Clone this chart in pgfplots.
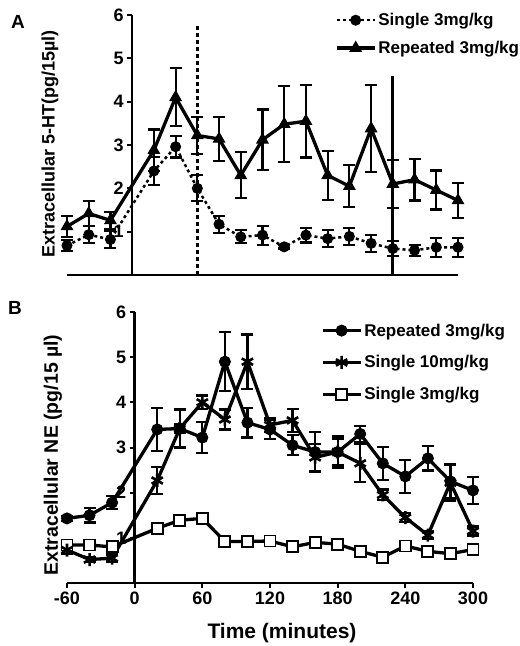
\documentclass[border=0pt]{standalone}
\usepackage{fontspec}
\setmainfont{Liberation Sans}
\usepackage{pgfplots}
\usepackage{pgfplotstable}
\pgfplotsset{compat=1.18}

% Panel A: single 3 mg/kg (circles, dotted)
\pgfplotstableread{
x y e
-60 0.68 0.12
-40 0.93 0.20
-20 0.82 0.20
20 2.40 0.33
40 2.96 0.25
60 2.00 0.30
80 1.17 0.20
100 0.88 0.15
120 0.92 0.22
140 0.65 0.04
160 0.92 0.17
180 0.84 0.20
200 0.89 0.20
220 0.73 0.19
240 0.61 0.17
260 0.57 0.13
280 0.64 0.22
300 0.64 0.22
}\AsingleTab

% Panel A: repeated 3 mg/kg (triangles)
\pgfplotstableread{
x y e
-60 1.12 0.25
-40 1.42 0.28
-20 1.26 0.20
20 2.88 0.48
40 4.10 0.67
60 3.22 0.42
80 3.14 0.50
100 2.30 0.53
120 3.12 0.70
140 3.48 0.88
160 3.55 0.84
180 2.30 0.56
200 2.05 0.48
220 3.38 1.00
240 2.10 0.55
260 2.20 0.48
280 1.96 0.45
300 1.72 0.40
}\ArepTab

% Panel B: repeated 3 mg/kg (circles)
\pgfplotstableread{
x y e
-60 1.43 0.05
-40 1.50 0.16
-20 1.78 0.15
20 3.40 0.48
40 3.42 0.42
60 3.22 0.35
80 4.90 0.65
100 3.55 0.33
120 3.40 0.22
140 3.05 0.22
160 2.90 0.45
180 2.90 0.35
200 3.30 0.18
220 2.65 0.37
240 2.36 0.36
260 2.76 0.27
280 2.25 0.38
300 2.05 0.30
}\BrepTab

% Panel B: single 10 mg/kg (stars)
\pgfplotstableread{
x y e
-60 0.73 0.08
-40 0.52 0.06
-20 0.55 0.08
20 2.27 0.30
40 3.42 0.10
60 4.00 0.15
80 3.62 0.22
100 4.90 0.60
120 3.50 0.15
140 3.60 0.25
160 2.78 0.30
180 2.90 0.30
200 2.65 0.42
220 1.95 0.12
240 1.45 0.10
260 1.06 0.08
280 2.22 0.40
300 1.15 0.10
}\BtenTab

% Panel B: single 3 mg/kg (squares)
\pgfplotstableread{
x y
-60 0.84
-40 0.84
-20 0.80
20 1.21
40 1.39
60 1.43
80 0.92
100 0.92
120 0.93
140 0.80
160 0.90
180 0.86
200 0.70
220 0.57
240 0.82
260 0.70
280 0.65
300 0.74
}\BsingleTab

\pgfplotsset{
  common/.style={
    scale only axis, clip=false,
    xmin=-60, xmax=300, ymin=0, ymax=6,
    axis x line=bottom, axis y line=center,
    axis line style={line width=2.5pt,-},
    hide obscured x ticks=false, hide obscured y ticks=false,
    tick align=outside, major tick length=5pt,
    tick style={line width=2pt,black},
    ytick={1,2,3,4,5,6},
    /pgf/number format/assume math mode=true,
    ticklabel style={font=\bfseries\fontsize{18}{18}\selectfont},
    legend style={draw=none, fill=none, inner sep=0pt,
      font=\bfseries\fontsize{17}{17}\selectfont, cells={anchor=west}},
    legend image code/.code={\draw[mark repeat=2,mark phase=2] plot coordinates {(0pt,0pt) (19pt,0pt) (38pt,0pt)};},
  },
  eb/.style={
    error bars/y dir=both, error bars/y explicit,
    error bars/error bar style={line width=2.2pt, solid},
    error bars/error mark options={rotate=90, mark size=6pt, line width=2.2pt, solid},
  },
}

\begin{document}
\begin{tikzpicture}
\path[use as bounding box] (0,0) rectangle (520pt,-646pt);

% ---------- Panel A ----------
\begin{axis}[common,
  at={(67pt,-275pt)}, anchor=south west,
  width=391pt, height=260pt,
  xtick=\empty,
  legend style={at={(0.685,1.015)}, anchor=north west, row sep=10pt},
]
\addplot[black, line width=2.5pt, dash pattern=on 3pt off 3pt, mark=*, mark size=5pt,
  mark options={solid, line width=1pt}, eb] table[x=x, y=y, y error=e] {\AsingleTab};
\addlegendentry{Single 3mg/kg}
\addplot[black, line width=3.3pt, mark=triangle*, mark size=6.5pt,
  mark options={solid, line width=1pt}, eb] table[x=x, y=y, y error=e] {\ArepTab};
\addlegendentry{Repeated 3mg/kg}
\addplot[forget plot, black, line width=2.8pt, dash pattern=on 4pt off 3pt] coordinates {(60,0) (60,5.75)};
\addplot[forget plot, black, line width=2.8pt] coordinates {(240,0) (240,4.6)};
\end{axis}

% ---------- Panel B ----------
\begin{axis}[common,
  at={(67pt,-583pt)}, anchor=south west,
  width=406pt, height=271pt,
  xtick={-60,0,60,120,180,240,300},
  reverse legend,
  legend style={at={(0.625,0.965)}, anchor=north west, row sep=14pt},
]
\addplot[black, line width=3.3pt, mark=square*, mark size=5.5pt,
  mark options={solid, fill=white, line width=1.8pt}] table[x=x, y=y] {\BsingleTab};
\addlegendentry{Single 3mg/kg}
\addplot[black, line width=3.3pt, mark=asterisk, mark size=6.5pt,
  mark options={solid, line width=2.6pt}, eb] table[x=x, y=y, y error=e] {\BtenTab};
\addlegendentry{Single 10mg/kg}
\addplot[black, line width=3.3pt, mark=*, mark size=5.5pt,
  mark options={solid, line width=1pt}, eb] table[x=x, y=y, y error=e] {\BrepTab};
\addlegendentry{Repeated 3mg/kg}
\end{axis}

% ---------- labels ----------
\node[font=\bfseries\fontsize{19}{19}\selectfont] at (18pt,-22pt) {A};
\node[font=\bfseries\fontsize{19}{19}\selectfont] at (15pt,-308pt) {B};
\node[rotate=90, font=\bfseries\fontsize{18}{18}\selectfont] at (50pt,-144pt) {Extracellular 5-HT(pg/15µl)};
\node[rotate=90, font=\bfseries\fontsize{19.5}{19.5}\selectfont] at (53pt,-455pt) {Extracellular NE (pg/15 µl)};
\node[font=\bfseries\fontsize{21}{21}\selectfont] at (282pt,-633pt) {Time (minutes)};
\end{tikzpicture}
\end{document}
